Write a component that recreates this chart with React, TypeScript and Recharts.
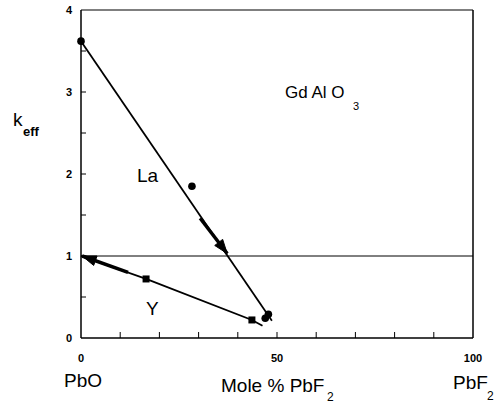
import React from "react";
import {
  ComposedChart,
  Line,
  Scatter,
  XAxis,
  YAxis,
  ReferenceLine,
} from "recharts";

const laLine = [
  { x: 0, y: 3.62 },
  { x: 48.7, y: 0.21 },
];
const laPoints = [
  { x: 0, y: 3.62 },
  { x: 28.3, y: 1.85 },
  { x: 47.8, y: 0.29 },
  { x: 47.0, y: 0.24 },
];
const laArrow = [
  { x: 30.4, y: 1.46 },
  { x: 37.3, y: 1.03 },
];
const yLine = [
  { x: 0, y: 1.0 },
  { x: 16.6, y: 0.72 },
  { x: 43.6, y: 0.22 },
  { x: 46.3, y: 0.15 },
];
const yPoints = [
  { x: 16.6, y: 0.72 },
  { x: 43.6, y: 0.22 },
];
const yArrow = [
  { x: 12.0, y: 0.8 },
  { x: 0.3, y: 1.0 },
];

const xTicks = [0, 10, 20, 30, 40, 50, 60, 70, 80, 90, 100];
const xLabels = [0, 50, 100];
const yTicks = [0, 0.5, 1, 1.5, 2, 2.5, 3, 3.5, 4];
const yLabels = [0, 1, 2, 3, 4];

const font = "'Liberation Sans', Arial, sans-serif";

const BottomTick = (props: any) => {
  const { x, y, payload } = props;
  const v = payload.value;
  return (
    <g>
      {v > 0 && v < 100 && <line x1={x} y1={y} x2={x} y2={y - 6} stroke="#000" strokeWidth={1} />}
      {xLabels.includes(v) && (
        <text x={x} y={y + 24} textAnchor="middle" fontSize={11} fontWeight="bold" fontFamily={font} fill="#000">
          {v}
        </text>
      )}
    </g>
  );
};

const TopTick = (props: any) => {
  const { x, y, payload } = props;
  const v = payload.value;
  if (v <= 0 || v >= 100) return <g />;
  return <line x1={x} y1={y} x2={x} y2={y + 6} stroke="#000" strokeWidth={1} />;
};

const LeftTick = (props: any) => {
  const { x, y, payload } = props;
  const v = payload.value;
  return (
    <g>
      {v > 0 && v < 4 && <line x1={x} y1={y} x2={x + 5} y2={y} stroke="#000" strokeWidth={1} />}
      {yLabels.includes(v) && (
        <text x={x - 9} y={y + 4} textAnchor="end" fontSize={11} fontWeight="bold" fontFamily={font} fill="#000">
          {v}
        </text>
      )}
    </g>
  );
};

const RightTick = (props: any) => {
  const { x, y, payload } = props;
  const v = payload.value;
  if (v <= 0 || v >= 4) return <g />;
  return <line x1={x} y1={y} x2={x - 5} y2={y} stroke="#000" strokeWidth={1} />;
};

const ArrowHead = (props: any) => {
  const { cx, cy, index, points } = props;
  if (index !== 1 || !points || points.length < 2) return <g key={`a${index}`} />;
  const p0 = points[0];
  const ang = Math.atan2(cy - p0.y, cx - p0.x);
  const len = 14;
  const half = 5;
  const bx = cx - len * Math.cos(ang);
  const by = cy - len * Math.sin(ang);
  const nx = -Math.sin(ang) * half;
  const ny = Math.cos(ang) * half;
  const d = `M${cx},${cy} L${bx + nx},${by + ny} L${bx - nx},${by - ny} Z`;
  return <path key={`a${index}`} d={d} fill="#000" stroke="#000" />;
};

const Square = (props: any) => {
  const { cx, cy } = props;
  return <rect x={cx - 3.5} y={cy - 3.5} width={7} height={7} fill="#000" />;
};

const Dot = (props: any) => {
  const { cx, cy } = props;
  return <circle cx={cx} cy={cy} r={3.8} fill="#000" />;
};

const txt: React.CSSProperties = {
  position: "absolute",
  fontFamily: font,
  color: "#000",
  whiteSpace: "nowrap",
  lineHeight: 1,
};

export default function App() {
  return (
    <div style={{ position: "absolute", left: 0, top: 0, width: 503, height: 403, background: "#fff" }}>
      <ComposedChart
        width={503}
        height={403}
        margin={{ top: 9, right: 20, bottom: 35, left: 41 }}
      >
        <XAxis
          xAxisId="b"
          dataKey="x"
          type="number"
          domain={[0, 100]}
          ticks={xTicks}
          interval={0}
          tickLine={false}
          tickSize={0}
          tickMargin={0}
          axisLine={{ stroke: "#000", strokeWidth: 1.5 }}
          tick={<BottomTick />}
          height={30}
        />
        <XAxis
          xAxisId="t"
          dataKey="x"
          type="number"
          orientation="top"
          domain={[0, 100]}
          ticks={xTicks}
          interval={0}
          tickLine={false}
          tickSize={0}
          tickMargin={0}
          axisLine={{ stroke: "#000", strokeWidth: 1.2 }}
          tick={<TopTick />}
          height={1}
        />
        <YAxis
          yAxisId="l"
          type="number"
          domain={[0, 4]}
          ticks={yTicks}
          interval={0}
          tickLine={false}
          tickSize={0}
          tickMargin={0}
          axisLine={{ stroke: "#000", strokeWidth: 1.5 }}
          tick={<LeftTick />}
          width={40}
        />
        <YAxis
          yAxisId="r"
          type="number"
          orientation="right"
          domain={[0, 4]}
          ticks={yTicks}
          interval={0}
          tickLine={false}
          tickSize={0}
          tickMargin={0}
          axisLine={{ stroke: "#000", strokeWidth: 1.5 }}
          tick={<RightTick />}
          width={10}
        />
        <ReferenceLine xAxisId="b" yAxisId="l" y={1} stroke="#000" strokeWidth={1} />
        <Line
          xAxisId="b"
          yAxisId="l"
          data={laLine}
          dataKey="y"
          type="linear"
          stroke="#000"
          strokeWidth={1.8}
          dot={false}
          isAnimationActive={false}
        />
        <Line
          xAxisId="b"
          yAxisId="l"
          data={yLine}
          dataKey="y"
          type="linear"
          stroke="#000"
          strokeWidth={1.8}
          dot={false}
          isAnimationActive={false}
        />
        <Line
          xAxisId="b"
          yAxisId="l"
          data={laArrow}
          dataKey="y"
          type="linear"
          stroke="#000"
          strokeWidth={3.5}
          dot={<ArrowHead />}
          isAnimationActive={false}
        />
        <Line
          xAxisId="b"
          yAxisId="l"
          data={yArrow}
          dataKey="y"
          type="linear"
          stroke="#000"
          strokeWidth={3.5}
          dot={<ArrowHead />}
          isAnimationActive={false}
        />
        <Scatter
          xAxisId="b"
          yAxisId="l"
          data={laPoints}
          dataKey="y"
          shape={<Dot />}
          isAnimationActive={false}
        />
        <Scatter
          xAxisId="b"
          yAxisId="l"
          data={yPoints}
          dataKey="y"
          shape={<Square />}
          isAnimationActive={false}
        />
      </ComposedChart>

      <div style={{ ...txt, left: 13, top: 110, fontSize: 19 }}>k</div>
      <div style={{ ...txt, left: 23, top: 125, fontSize: 13, fontWeight: "bold" }}>eff</div>

      <div style={{ ...txt, left: 285, top: 84, fontSize: 17 }}>Gd Al O</div>
      <div style={{ ...txt, left: 353, top: 101, fontSize: 11 }}>3</div>

      <div style={{ ...txt, left: 137, top: 166, fontSize: 19 }}>La</div>
      <div style={{ ...txt, left: 146, top: 299, fontSize: 19 }}>Y</div>

      <div style={{ ...txt, left: 64, top: 371, fontSize: 19 }}>PbO</div>
      <div style={{ ...txt, left: 221, top: 376, fontSize: 19 }}>Mole % PbF</div>
      <div style={{ ...txt, left: 327, top: 391, fontSize: 12 }}>2</div>
      <div style={{ ...txt, left: 453, top: 373, fontSize: 19 }}>PbF</div>
      <div style={{ ...txt, left: 487, top: 390, fontSize: 12 }}>2</div>
    </div>
  );
}
